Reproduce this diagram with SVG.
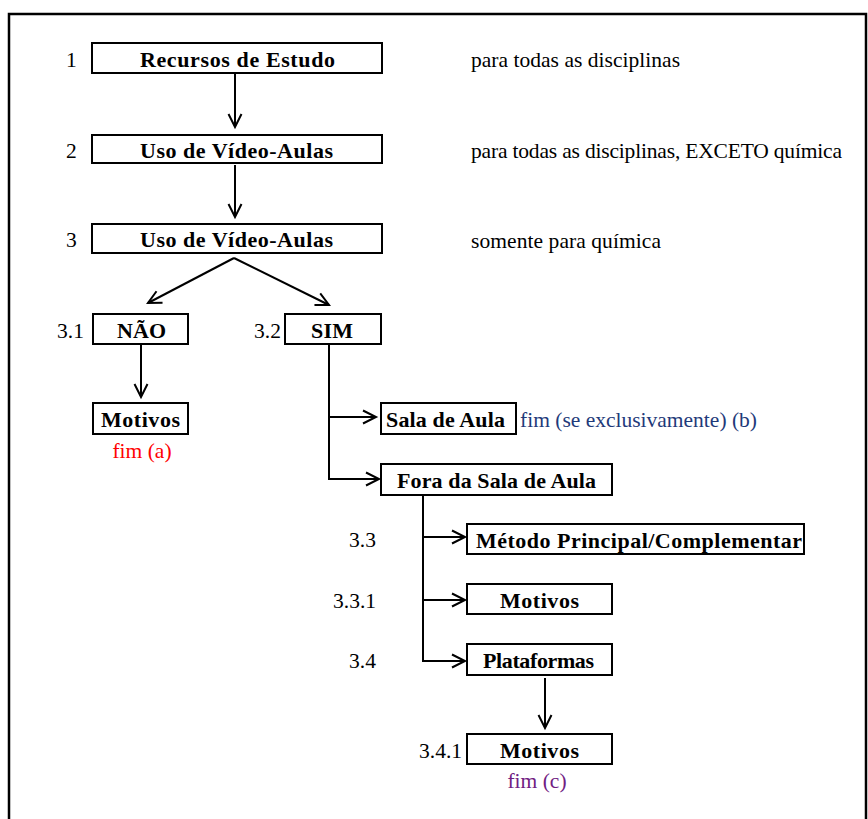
<svg xmlns="http://www.w3.org/2000/svg" width="868" height="819" viewBox="0 0 868 819">
<style>
.box{fill:#fff;stroke:#000;stroke-width:2}
text{font-family:'Liberation Serif','Times New Roman',Times,serif}
.bt{font-weight:bold;font-size:22px;fill:#000}
.rt{font-size:21.5px;fill:#000}
.c{fill:none;stroke:#000;stroke-width:2}
.a{marker-end:url(#ah)}
</style>
<defs>
<marker id="ah" markerUnits="userSpaceOnUse" markerWidth="20" markerHeight="20" refX="0" refY="0" orient="auto" overflow="visible">
<path d="M-13,-6.5 L0,0 L-13,6.5" fill="none" stroke="#000" stroke-width="2"/>
</marker>
</defs>
<rect width="868" height="819" fill="#fff"/>
<path d="M9,819 V14 H866 V819" fill="none" stroke="#000" stroke-width="2.5"/>

<g id="connectors">
<line class="c a" x1="235" y1="74" x2="235" y2="127"/>
<line class="c a" x1="235" y1="165" x2="235" y2="217"/>
<polyline class="c a" points="234,258 148,303"/>
<polyline class="c a" points="234,258 329,305"/>
<line class="c a" x1="141" y1="344" x2="141" y2="397"/>
<polyline class="c a" points="329,344 329,479 379,479"/>
<line class="c a" x1="329" y1="417" x2="376" y2="417"/>
<polyline class="c a" points="423,495 423,661 465,661"/>
<line class="c a" x1="423" y1="537" x2="465" y2="537"/>
<line class="c a" x1="423" y1="600" x2="465" y2="600"/>
<line class="c a" x1="545" y1="678" x2="545" y2="728"/>
</g>

<g id="n1">
<text class="rt" x="66" y="67">1</text>
<rect class="box" x="92" y="43" width="290" height="30"/>
<text class="bt" x="140" y="67" textLength="195" lengthAdjust="spacing">Recursos de Estudo</text>
<text class="rt" x="471" y="67" textLength="209" lengthAdjust="spacing">para todas as disciplinas</text>
</g>
<g id="n2">
<text class="rt" x="66" y="158">2</text>
<rect class="box" x="92" y="135" width="290" height="28"/>
<text class="bt" x="140" y="158" textLength="193" lengthAdjust="spacing">Uso de Vídeo-Aulas</text>
<text class="rt" x="471" y="158" textLength="371" lengthAdjust="spacing">para todas as disciplinas, EXCETO química</text>
</g>
<g id="n3">
<text class="rt" x="66" y="247">3</text>
<rect class="box" x="92" y="224" width="290" height="29"/>
<text class="bt" x="140" y="247" textLength="193" lengthAdjust="spacing">Uso de Vídeo-Aulas</text>
<text class="rt" x="471" y="248" textLength="190" lengthAdjust="spacing">somente para química</text>
</g>
<g id="n31">
<text class="rt" x="57" y="338">3.1</text>
<rect class="box" x="93" y="314" width="95" height="30"/>
<text class="bt" x="117" y="338" textLength="49" lengthAdjust="spacing">NÃO</text>
</g>
<g id="n32">
<text class="rt" x="254" y="338">3.2</text>
<rect class="box" x="285" y="314" width="96" height="30"/>
<text class="bt" x="311" y="338" textLength="42" lengthAdjust="spacing">SIM</text>
</g>
<g id="n31m">
<rect class="box" x="93" y="403" width="95" height="31"/>
<text class="bt" x="101" y="427" textLength="79" lengthAdjust="spacing">Motivos</text>
<text class="rt" x="142" y="458" text-anchor="middle" style="fill:#f00">fim (a)</text>
</g>
<g id="nsala">
<rect class="box" x="381" y="403" width="135" height="31"/>
<text class="bt" x="386" y="427" textLength="119" lengthAdjust="spacing">Sala de Aula</text>
<text class="rt" x="520" y="427" textLength="237" lengthAdjust="spacing" style="fill:#1f3a7a">fim (se exclusivamente) (b)</text>
</g>
<g id="nfora">
<rect class="box" x="381" y="464" width="231" height="31"/>
<text class="bt" x="397" y="488" textLength="199" lengthAdjust="spacing">Fora da Sala de Aula</text>
</g>
<g id="n33">
<text class="rt" x="349" y="547">3.3</text>
<rect class="box" x="467" y="524" width="337" height="30"/>
<text class="bt" x="476" y="548" textLength="326" lengthAdjust="spacing">Método Principal/Complementar</text>
</g>
<g id="n331">
<text class="rt" x="333" y="608">3.3.1</text>
<rect class="box" x="467" y="584" width="145" height="30"/>
<text class="bt" x="500" y="608" textLength="79" lengthAdjust="spacing">Motivos</text>
</g>
<g id="n34">
<text class="rt" x="349" y="668">3.4</text>
<rect class="box" x="467" y="644" width="145" height="31"/>
<text class="bt" x="483" y="668" textLength="111" lengthAdjust="spacing">Plataformas</text>
</g>
<g id="n341">
<text class="rt" x="419" y="758">3.4.1</text>
<rect class="box" x="467" y="734" width="145" height="30"/>
<text class="bt" x="500" y="758" textLength="79" lengthAdjust="spacing">Motivos</text>
<text class="rt" x="537" y="788" text-anchor="middle" style="fill:#702082">fim (c)</text>
</g>
</svg>
